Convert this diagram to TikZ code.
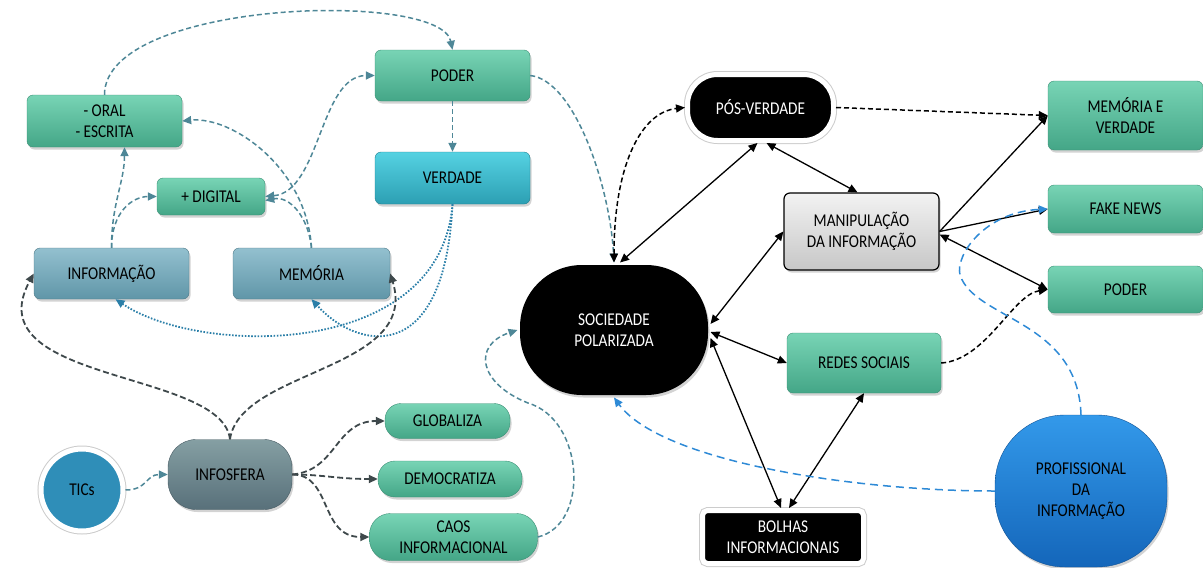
\documentclass[tikz,border=0pt]{standalone}
\usepackage{fontspec}
\setmainfont{Carlito}[FakeStretch=0.85]
\usetikzlibrary{arrows.meta,shadows}

\definecolor{greentop}{HTML}{78D4B5}
\definecolor{greenbot}{HTML}{44A687}
\definecolor{greenline}{HTML}{3B8F75}
\definecolor{cyantop}{HTML}{55D2E2}
\definecolor{cyanbot}{HTML}{2C9FB3}
\definecolor{steeltop}{HTML}{93C0CF}
\definecolor{steelbot}{HTML}{6096A8}
\definecolor{slatetop}{HTML}{859FA3}
\definecolor{slatebot}{HTML}{58707A}
\definecolor{ticsblue}{HTML}{2F8EB8}
\definecolor{proftop}{HTML}{3399EA}
\definecolor{profbot}{HTML}{1466BA}
\definecolor{tealline}{HTML}{4E8797}
\definecolor{darkline}{HTML}{3E484B}
\definecolor{dotblue}{HTML}{2B7FA8}
\definecolor{dashblue}{HTML}{2E8AD6}

\tikzset{
    >={Triangle[length=9pt,width=8pt]},
    box/.style={rectangle, rounded corners=6pt, align=center, text=black,
        font=\fontsize{18}{21}\selectfont,
        drop shadow={shadow xshift=1.5pt, shadow yshift=-2.5pt, opacity=.35}},
    greenbox/.style={box, draw=greenline, top color=greentop, bottom color=greenbot},
    cyanbox/.style={box, draw=cyanbot!80!black, top color=cyantop, bottom color=cyanbot},
    steelbox/.style={box, draw=steelbot!80!black, top color=steeltop, bottom color=steelbot},
    slatebox/.style={box, draw=slatebot!80!black, top color=slatetop, bottom color=slatebot},
    greybox/.style={box, draw=black, line width=1.2pt, top color=white!95!black, bottom color=white!78!black},
    ringed/.style={preaction={draw=black!20, line width=7pt}},
    blackbox/.style={box, text=white, fill=black, draw=white, line width=5pt},
    tealdash/.style={draw=tealline, line width=1.5pt, dash pattern=on 5pt off 3pt},
    darkdash/.style={draw=darkline, line width=1.8pt, dash pattern=on 6pt off 3pt},
    bluedot/.style={draw=dotblue, line width=1.8pt, dash pattern=on 1.6pt off 1.6pt},
    blackline/.style={draw=black, line width=1.3pt},
    blackdash/.style={draw=black, line width=1.5pt, dash pattern=on 5pt off 3pt},
    bluedash/.style={draw=dashblue, line width=1.5pt, dash pattern=on 8pt off 5pt}
}

\begin{document}
\begin{tikzpicture}[x=1pt,y=-1pt]

        \useasboundingbox (0,0) rectangle (1203,568);

        % Oral / Escrita
        \node [greenbox, minimum width=155pt, minimum height=52pt] (oral) at (104.5,121) {- ORAL\\- ESCRITA};

        % Poder (top)
        \node [greenbox, minimum width=155pt, minimum height=51pt] (poder) at (452.5,75.5) {PODER};

        % Verdade
        \node [cyanbox, minimum width=155pt, minimum height=52pt] (verdade) at (452.5,178) {VERDADE};

        % + Digital
        \node [greenbox, minimum width=108pt, minimum height=37pt] (digital) at (211,196.5) {+ DIGITAL};

        % Informacao
        \node [steelbox, minimum width=155pt, minimum height=51pt] (info) at (111.5,273.5) {INFORMAÇÃO};

        % Memoria
        \node [steelbox, minimum width=157pt, minimum height=51pt] (memoria) at (311.5,273.5) {MEMÓRIA};

        % TICs
        \node [box, ringed, circle, fill=ticsblue, draw=white, line width=5pt, minimum size=82pt] (tics) at (82,490) {TICs};

        % Infosfera
        \node [slatebox, rounded corners=28pt, minimum width=124pt, minimum height=70pt] (infosfera) at (230,474.5) {INFOSFERA};

        % Globaliza / Democratiza / Caos
        \node [greenbox, rounded corners=16pt, minimum width=125pt, minimum height=35pt] (globaliza) at (447.5,421) {GLOBALIZA};
        \node [greenbox, rounded corners=17pt, minimum width=144pt, minimum height=36pt] (democratiza) at (450,479) {DEMOCRATIZA};
        \node [greenbox, rounded corners=21pt, minimum width=168pt, minimum height=47pt] (caos) at (453.5,537) {CAOS\\INFORMACIONAL};

        % Sociedade polarizada
        \node [blackbox, draw=none, rounded corners=62pt, minimum width=188pt, minimum height=130pt] (sociedade) at (614,330) {SOCIEDADE\\POLARIZADA};

        % Pos-verdade
        \node [blackbox, ringed, rounded corners=30pt, minimum width=146pt, minimum height=66pt] (pos) at (760.5,107.5) {PÓS-VERDADE};

        % Manipulacao da informacao
        \node [greybox, minimum width=155pt, minimum height=77pt] (manip) at (861.5,231.5) {MANIPULAÇÃO\\DA INFORMAÇÃO};

        % Redes sociais
        \node [greenbox, minimum width=154pt, minimum height=60pt] (redes) at (864,363) {REDES SOCIAIS};

        % Bolhas informacionais
        \node [blackbox, ringed, rounded corners=5pt, minimum width=161pt, minimum height=53pt] (bolhas) at (783,537) {BOLHAS\\INFORMACIONAIS};

        % Memoria e verdade / Fake news / Poder (right)
        \node [greenbox, minimum width=155pt, minimum height=69pt] (mv) at (1125.5,115.5) {MEMÓRIA E\\VERDADE};
        \node [greenbox, minimum width=155pt, minimum height=48pt] (fake) at (1125.5,209) {FAKE NEWS};
        \node [greenbox, minimum width=155pt, minimum height=47pt] (poderb) at (1125.5,289.5) {PODER};

        % Profissional da informacao
        \node [box, draw=profbot!80!black, top color=proftop, bottom color=profbot, rounded corners=70pt, minimum width=172pt, minimum height=152pt] (prof) at (1081,491) {PROFISSIONAL\\DA\\INFORMAÇÃO};

        % helper points
        \coordinate (bend) at (528,403);
        \coordinate (turn) at (960,275);

        % Left connectors
        \draw [tealdash,->] (oral.north) .. controls +(0,-95) and +(-12,-60) .. (poder.north);
        \draw [tealdash,->] (info.north) .. controls +(0,-45) and +(0,35) .. ([xshift=20pt]oral.south);
        \draw [tealdash,->] (info.north) .. controls +(0,-35) and +(-25,0) .. (digital.west);
        \draw [tealdash,->] (memoria.north) .. controls +(-5,-80) and +(50,-5) .. (oral.east);
        \draw [tealdash,->] (memoria.north) .. controls +(-3,-30) and +(25,-5) .. ([yshift=-4pt]digital.east);
        \draw [tealdash,<->] (digital.east) .. controls +(55,-5) and +(-55,0) .. (poder.west);
        \draw [tealdash,->] (poder.south) -- (verdade.north);
        \draw [tealdash,->] (poder.east) .. controls +(45,5) and +(-4,-75) .. (sociedade.north);

        % Verdade dotted
        \draw [bluedot,->] (verdade.south) .. controls +(-12,155) and +(85,57) .. ([xshift=4pt]info.south);
        \draw [bluedot,->] (verdade.south) .. controls +(-8,165) and +(45,50) .. (memoria.south);

        % Infosfera
        \draw [darkdash,->] (infosfera.north) .. controls +(-8,-70) and +(-60,110) .. (info.west);
        \draw [darkdash,->] (infosfera.north) .. controls +(10,-70) and +(30,97) .. (memoria.east);
        \draw [tealdash,->] (tics.east) .. controls +(22,0) and +(-22,0) .. (infosfera.west);
        \draw [darkdash,->] (infosfera.east) .. controls +(45,-4) and +(-50,0) .. (globaliza.west);
        \draw [darkdash,->] (infosfera.east) .. controls +(30,0) and +(-40,0) .. (democratiza.west);
        \draw [darkdash,->] (infosfera.east) .. controls +(40,0) and +(-50,0) .. (caos.west);
        \draw [tealdash,->] (caos.east) .. controls +(52,-12) and +(57,17) .. (bend) .. controls +(-50,-20) and +(-45,15) .. (sociedade.west);

        % Right connectors
        \draw [blackdash,<->] (sociedade.north) .. controls +(0,-95) and +(-45,5) .. (pos.west);
        \draw [blackline,<->] ([xshift=6pt]sociedade.north) -- ([xshift=-3pt]pos.south);
        \draw [blackline,<->] ([xshift=6pt]pos.south) -- ([xshift=-4pt]manip.north);
        \draw [blackline,<->] ([yshift=6pt]sociedade.east) -- (manip.west);
        \draw [blackline,<->] ([yshift=-2pt]sociedade.east) -- (redes.west);
        \draw [blackline,<->] ([yshift=-8pt]sociedade.east) -- ([xshift=-2pt]bolhas.north);
        \draw [blackline,<->] ([xshift=6pt]bolhas.north) -- (redes.south);
        \draw [blackdash,->] (pos.east) -- (mv.west);
        \draw [blackline,->] (manip.east) -- (mv.west);
        \draw [blackline,->] (manip.east) -- (fake.west);
        \draw [blackline,<->] ([yshift=-3pt]manip.east) -- (poderb.west);
        \draw [blackdash,->] (redes.east) .. controls +(45,-3) and +(-35,5) .. (poderb.west);

        % Profissional
        \draw [bluedash,->] (prof.north) .. controls +(-3,-95) and +(15,45) .. (turn) .. controls +(-5,-20) and +(-63,3) .. (fake.west);
        \draw [bluedash,->] (prof.west) .. controls +(-145,0) and +(46,63) .. (sociedade.south);

    \end{tikzpicture}
\end{document}
